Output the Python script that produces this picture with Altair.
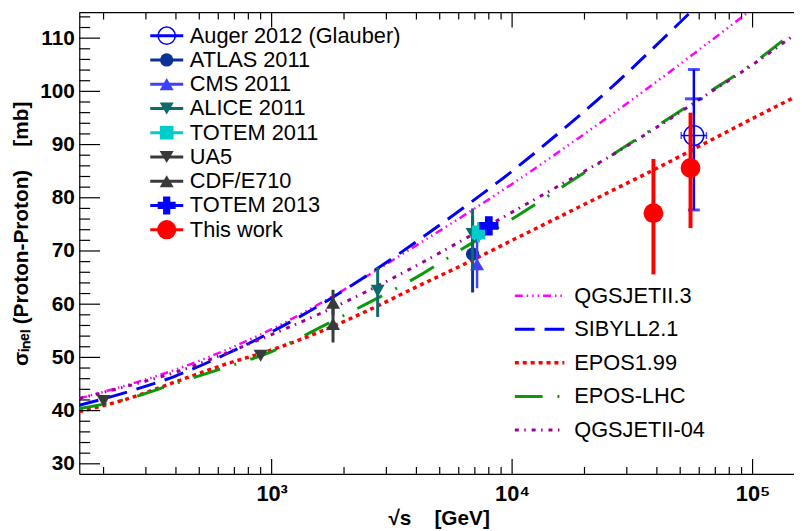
import altair as alt
import pandas as pd

# ---------------- model curves (sqrt(s) in GeV, sigma_inel in mb) ----------------
energy_grid = [158.5, 251, 398, 631, 1000, 1585, 2512, 3981, 6310, 10000,
               15850, 25120, 39810, 63100, 100000, 148000]
qgsjet3 = [42.3, 44.8, 47.7, 51.2, 55.3, 60.1, 65.4, 71.0, 76.7, 82.6,
           88.8, 95.2, 101.8, 108.6, 115.5, 121.5]
sibyll21 = [41.0, 43.5, 46.5, 50.4, 54.8, 59.8, 65.5, 71.7, 78.2, 85.0,
            92.4, 100.2, 108.7, 117.5, 127.0, 135.0]
epos199 = [39.8, 42.2, 45.4, 48.6, 51.4, 54.8, 58.8, 63.2, 67.5, 72.0,
           76.5, 81.0, 85.5, 90.2, 94.9, 98.8]
eposlhc = [40.4, 42.2, 45.1, 48.0, 51.1, 55.6, 60.2, 65.0, 70.6, 76.0,
           81.8, 87.6, 93.4, 99.3, 105.2, 111.2]
qgsjet04 = [42.3, 44.6, 47.2, 50.6, 54.3, 58.2, 62.5, 67.2, 72.2, 77.3,
            82.4, 87.6, 93.2, 99.1, 105.0, 110.5]

model_names = ["QGSJETII.3", "SIBYLL2.1", "EPOS1.99", "EPOS-LHC", "QGSJETII-04"]
model_values = [qgsjet3, sibyll21, epos199, eposlhc, qgsjet04]

# ---------------- measurements ----------------
auger_E = [57000]; auger_v = [91.7]
auger_lo_in = [84.6]; auger_hi_in = [98.6]
auger_lo = [77.7]; auger_hi = [104.1]
auger_Elo = [50500]; auger_Ehi = [64300]

atlas_E = [6850]; atlas_v = [69.4]; atlas_lo = [62.2]; atlas_hi = [76.6]
cms_E = [7150]; cms_v = [67.5]; cms_lo = [63.0]; cms_hi = [72.5]
alice_E = [2760, 6850]; alice_v = [62.5, 73.2]; alice_lo = [57.6, 66.5]; alice_hi = [66.9, 78.0]
totem11_E = [7250]; totem11_v = [73.5]; totem11_lo = [71.6]; totem11_hi = [75.4]
ua5_E = [200, 900]; ua5_v = [41.8, 50.3]; ua5_lo = [41.2, 49.9]; ua5_hi = [42.4, 50.7]
cdf_E = [1800, 1800]; cdf_v = [60.3, 56.3]; cdf_lo = [57.9, 52.8]; cdf_hi = [62.7, 59.8]
totem13_E = [8000]; totem13_v = [74.7]; totem13_lo = [73.0]; totem13_hi = [76.4]
this_E = [38700, 55200]; this_v = [77.1, 85.6]; this_lo = [65.6, 74.3]; this_hi = [87.3, 96.0]

# ---------------- axis ticks ----------------
x_major = [1000, 10000, 100000]
x_minor = [200, 300, 400, 500, 600, 700, 800, 900,
           2000, 3000, 4000, 5000, 6000, 7000, 8000, 9000,
           20000, 30000, 40000, 50000, 60000, 70000, 80000, 90000]
y_major = [30, 40, 50, 60, 70, 80, 90, 100, 110]
y_minor = [v for v in range(30, 115, 2) if v % 10 != 0]

NB = "\u00a0"
x_title = "√s" + NB * 4 + "[GeV]"
y_title = "σᵢₙₑₗ (Proton-Proton)" + NB * 4 + "[mb]"

# ---------------- layout ----------------
W, H = 722, 466
FONT = "Liberation Sans"
xscale = alt.Scale(type="log", domain=[158.5, 148700], nice=False)
yscale = alt.Scale(domain=[28.1, 114.8], nice=False, zero=False)

xaxis = alt.Axis(values=x_major,
                 labelExpr="datum.value == 1000 ? '10³' : datum.value == 10000 ? '10⁴' : '10⁵'",
                 ticks=False, grid=False, domainColor="black", domainWidth=1.2,
                 labelFont=FONT, labelFontSize=22, labelFontWeight="bold", labelColor="black",
                 labelPadding=10, labelBaseline="top", labelFlush=False,
                 title=x_title, titleFont=FONT, titleFontSize=21, titleFontWeight="bold",
                 titleColor="black", titleX=363, titleY=45, titleAlign="center",
                 titleBaseline="middle")
yaxis = alt.Axis(values=y_major, format="d", ticks=False, grid=False,
                 domainColor="black", domainWidth=1.2,
                 labelFont=FONT, labelFontSize=21, labelFontWeight="bold", labelColor="black",
                 labelPadding=5, labelFlush=False,
                 title=y_title, titleFont=FONT, titleFontSize=21,
                 titleFontWeight="bold", titleColor="black", titleAngle=-90,
                 titleX=-58, titleY=223, titleAlign="center", titleBaseline="middle")


def X(field):
    return alt.X(f"{field}:Q", scale=xscale, axis=xaxis)


def Y(field):
    return alt.Y(f"{field}:Q", scale=yscale, axis=yaxis)


layers = []

# ---------------- model lines ----------------
model_styles = [
    dict(color="#ff00ff", strokeWidth=2.5, strokeDash=[8, 4, 1.5, 4, 1.5, 4, 1.5, 4]),
    dict(color="#0000ff", strokeWidth=3, strokeDash=[20, 10]),
    dict(color="#ff0000", strokeWidth=3.5, strokeDash=[4, 4]),
    dict(color="#0a990a", strokeWidth=3, strokeDash=[28, 15, 2, 15]),
    dict(color="#990099", strokeWidth=3, strokeDash=[4, 5.5, 1.5, 6]),
]
for name, vals, st in zip(model_names, model_values, model_styles):
    df = pd.DataFrame({"E": energy_grid, "v": vals})
    layers.append(alt.Chart(df).mark_line(clip=True, interpolate="monotone", **st)
                  .encode(x=X("E"), y=Y("v")))


# ---------------- measurement helper ----------------
def series(E, v, lo, hi, color, shape, size, filled=True, bw=3, sw=1.5):
    df = pd.DataFrame({"E": E, "v": v, "lo": lo, "hi": hi})
    b = alt.Chart(df)
    out = [b.mark_rule(color=color, strokeWidth=bw).encode(x=X("E"), y=Y("lo"), y2="hi:Q")]
    out.append(b.mark_point(shape=shape, size=size, filled=filled, color=color,
                            opacity=1, strokeWidth=sw).encode(x=X("E"), y=Y("v")))
    return out


# Auger 2012 (Glauber)
adf = pd.DataFrame({"E": auger_E, "v": auger_v, "lo": auger_lo, "hi": auger_hi,
                    "loi": auger_lo_in, "hii": auger_hi_in, "El": auger_Elo, "Eh": auger_Ehi})
ab = alt.Chart(adf)
AUG = "#0000ff"
layers += [
    ab.mark_rule(color=AUG, strokeWidth=2.5).encode(x=X("E"), y=Y("lo"), y2="hi:Q"),
    ab.mark_tick(color=AUG, orient="horizontal", size=12, thickness=3).encode(x=X("E"), y=Y("hi")),
    ab.mark_tick(color=AUG, orient="horizontal", size=12, thickness=3).encode(x=X("E"), y=Y("lo")),
    ab.mark_tick(color=AUG, orient="horizontal", size=18, thickness=3).encode(x=X("E"), y=Y("hii")),
    ab.mark_tick(color=AUG, orient="horizontal", size=7, thickness=3).encode(x=X("E"), y=Y("loi")),
    ab.mark_rule(color=AUG, strokeWidth=1.5).encode(x=X("El"), x2="Eh:Q", y=Y("v")),
    ab.mark_tick(color=AUG, orient="vertical", size=7, thickness=1.5).encode(x=X("El"), y=Y("v")),
    ab.mark_tick(color=AUG, orient="vertical", size=7, thickness=1.5).encode(x=X("Eh"), y=Y("v")),
    ab.mark_point(shape="circle", size=400, filled=False, color=AUG, opacity=1,
                  strokeWidth=1.5).encode(x=X("E"), y=Y("v")),
]

layers += series(atlas_E, atlas_v, atlas_lo, atlas_hi, "#0a3296", "circle", 180)
layers += series(cms_E, cms_v, cms_lo, cms_hi, "#4040ff", "triangle-up", 200, bw=2.5)
layers += series(alice_E, alice_v, alice_lo, alice_hi, "#0e6b6b", "triangle-down", 200)
layers += series(totem11_E, totem11_v, totem11_lo, totem11_hi, "#00cccc", "square", 190)
layers += series(ua5_E, ua5_v, ua5_lo, ua5_hi, "#3a3a3a", "triangle-down", 200)
layers += series(cdf_E, cdf_v, cdf_lo, cdf_hi, "#3a3a3a", "triangle-up", 200)
layers += series(totem13_E, totem13_v, totem13_lo, totem13_hi, "#0000ff", "cross", 380)
layers += series(this_E, this_v, this_lo, this_hi, "#ff0000", "circle", 400, bw=4)

# ---------------- inward ticks and top frame ----------------
tick_major_df = pd.DataFrame({"E": x_major})
tick_minor_df = pd.DataFrame({"E": x_minor})
ytick_major_df = pd.DataFrame({"v": y_major})
ytick_minor_df = pd.DataFrame({"v": y_minor})
TK = dict(color="black", strokeWidth=1.2)
layers += [
    alt.Chart(tick_major_df).mark_rule(**TK).encode(x=X("E"), y=alt.value(H), y2=alt.value(H - 15)),
    alt.Chart(tick_minor_df).mark_rule(**TK).encode(x=X("E"), y=alt.value(H), y2=alt.value(H - 7)),
    alt.Chart(tick_major_df).mark_rule(**TK).encode(x=X("E"), y=alt.value(0), y2=alt.value(15)),
    alt.Chart(tick_minor_df).mark_rule(**TK).encode(x=X("E"), y=alt.value(0), y2=alt.value(7)),
    alt.Chart(ytick_major_df).mark_rule(**TK).encode(y=Y("v"), x=alt.value(0), x2=alt.value(21)),
    alt.Chart(ytick_minor_df).mark_rule(**TK).encode(y=Y("v"), x=alt.value(0), x2=alt.value(11)),
]
one = pd.DataFrame({"a": [0]})
layers.append(alt.Chart(one).mark_rule(**TK).encode(x=alt.value(0), x2=alt.value(W), y=alt.value(0)))

# ---------------- legends ----------------
leg1 = [
    ("Auger 2012 (Glauber)", "#0000ff", "circle", 300, False),
    ("ATLAS 2011", "#0a3296", "circle", 180, True),
    ("CMS 2011", "#4040ff", "triangle-up", 200, True),
    ("ALICE 2011", "#0e6b6b", "triangle-down", 200, True),
    ("TOTEM 2011", "#00cccc", "square", 190, True),
    ("UA5", "#3a3a3a", "triangle-down", 200, True),
    ("CDF/E710", "#3a3a3a", "triangle-up", 200, True),
    ("TOTEM 2013", "#0000ff", "cross", 330, True),
    ("This work", "#ff0000", "circle", 380, True),
]
L1_Y0, L1_DY = 23.3, 24.5
for i, (lab, col, shp, sz, fil) in enumerate(leg1):
    yy = L1_Y0 + L1_DY * i
    layers += [
        alt.Chart(one).mark_rule(color=col, strokeWidth=3).encode(
            x=alt.value(71.7), x2=alt.value(105), y=alt.value(yy)),
        alt.Chart(one).mark_point(shape=shp, size=sz, filled=fil, color=col, opacity=1,
                                  strokeWidth=1.5).encode(x=alt.value(88.3), y=alt.value(yy)),
        alt.Chart(one).mark_text(align="left", baseline="middle", font=FONT, fontSize=22,
                                 color="black").encode(x=alt.value(111.7), y=alt.value(yy),
                                                      text=alt.value(lab)),
    ]

L2_Y0, L2_DY = 286, 33.9
for i, (name, st) in enumerate(zip(model_names, model_styles)):
    yy = L2_Y0 + L2_DY * i
    layers += [
        alt.Chart(one).mark_rule(**st).encode(x=alt.value(440), x2=alt.value(490), y=alt.value(yy)),
        alt.Chart(one).mark_text(align="left", baseline="middle", font=FONT, fontSize=22,
                                 color="black").encode(x=alt.value(500), y=alt.value(yy),
                                                      text=alt.value(name)),
    ]

chart = alt.layer(*layers).properties(
    width=W, height=H,
    autosize=alt.AutoSizeParams(type="none"),
    padding={"left": 72, "top": 2, "right": 0, "bottom": 55},
    background="white",
).configure_view(stroke=None)

chart.save("out.html", embed_options={"renderer": "svg", "actions": False})
